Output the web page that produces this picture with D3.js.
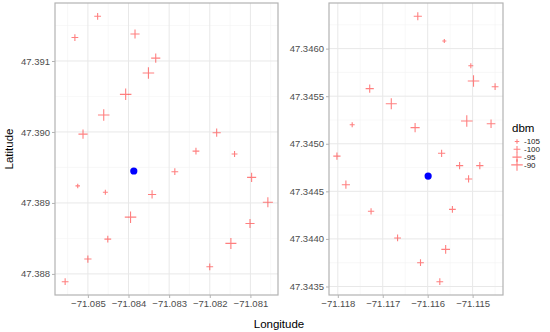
<!DOCTYPE html>
<html>
<head>
<meta charset="utf-8">
<script src="https://cdn.jsdelivr.net/npm/d3@7"></script>
<style>
  body { margin: 0; background: #fff; }
  text { font-family: "Liberation Sans", Arial, sans-serif; }
</style>
</head>
<body>
<svg width="550" height="332"></svg>
<script>
// Left site measurements: [lon, lat, dbm]
let siteA = [
  [-71.08476, 47.39163, -100], [-71.08532, 47.39133, -100], [-71.08384, 47.39138, -95],
  [-71.08333, 47.39104, -95], [-71.08351, 47.39083, -90], [-71.08407, 47.39053, -90],
  [-71.08461, 47.39024, -90], [-71.08512, 47.38997, -95], [-71.08183, 47.38999, -97],
  [-71.08234, 47.38973, -100], [-71.08139, 47.38969, -102], [-71.08525, 47.38924, -105],
  [-71.08457, 47.38915, -104], [-71.08286, 47.38944, -100], [-71.08342, 47.38912, -97],
  [-71.08097, 47.38936, -95], [-71.08057, 47.38901, -93], [-71.08395, 47.3888, -90],
  [-71.08101, 47.38871, -95], [-71.08451, 47.38849, -100], [-71.08148, 47.38843, -91],
  [-71.085, 47.38821, -99], [-71.082, 47.3881, -100], [-71.08556, 47.38789, -100]
];
// Right site measurements: [lon, lat, dbm]
let siteB = [
  [-71.11622, 47.34634, -97], [-71.11563, 47.34608, -106], [-71.11504, 47.34582, -104],
  [-71.11498, 47.34566, -90], [-71.1145, 47.3456, -100], [-71.11729, 47.34558, -97],
  [-71.11681, 47.34542, -91], [-71.11768, 47.3452, -104], [-71.11628, 47.34517, -95],
  [-71.11513, 47.34524, -90], [-71.11459, 47.34521, -96], [-71.11802, 47.34487, -99],
  [-71.11569, 47.3449, -99], [-71.11529, 47.34477, -99], [-71.11484, 47.34477, -99],
  [-71.11509, 47.34463, -99], [-71.11782, 47.34457, -97], [-71.11726, 47.34429, -101],
  [-71.11545, 47.34431, -100], [-71.11667, 47.34401, -100], [-71.1156, 47.34389, -96],
  [-71.11616, 47.34375, -100], [-71.11573, 47.34355, -100]
];
// Tower positions (blue dots)
let towerA = [-71.08387, 47.38945];
let towerB = [-71.11599, 47.34466];

let xTicksA = [-71.085, -71.084, -71.083, -71.082, -71.081];
let yTicksA = [47.388, 47.389, 47.390, 47.391];
let xTicksB = [-71.118, -71.117, -71.116, -71.115];
let yTicksB = [47.3435, 47.3440, 47.3445, 47.3450, 47.3455, 47.3460];
let legendBreaks = [-105, -100, -95, -90];

let svg = d3.select("svg");
let size = d3.scaleSqrt().domain([-107, -89]).range([1.8, 6]);
let red = "rgba(255,0,0,0.5)";

// ggplot style 5% expansion
function expand(ext) {
  let d = (ext[1] - ext[0]) * 0.05;
  return [ext[0] - d, ext[1] + d];
}

function minors(ticks) {
  let step = ticks[1] - ticks[0];
  let out = [];
  for (let i = -1; i < ticks.length; i++) {
    out.push(ticks[0] + step * (i + 0.5));
  }
  return out;
}

function panel(data, tower, x0, x1, xt, yt, xfmt, yfmt) {
  let top = 3, bottom = 295;
  let x = d3.scaleLinear().domain(expand(d3.extent(data, d => d[0]))).range([x0, x1]);
  let y = d3.scaleLinear().domain(expand(d3.extent(data, d => d[1]))).range([bottom, top]);
  let g = svg.append("g");

  // minor grid
  minors(xt).filter(v => x(v) > x0 && x(v) < x1).forEach(v => {
    g.append("line").attr("x1", x(v)).attr("x2", x(v)).attr("y1", top).attr("y2", bottom)
      .attr("stroke", "#f3f3f3").attr("stroke-width", 0.6);
  });
  minors(yt).filter(v => y(v) > top && y(v) < bottom).forEach(v => {
    g.append("line").attr("x1", x0).attr("x2", x1).attr("y1", y(v)).attr("y2", y(v))
      .attr("stroke", "#f3f3f3").attr("stroke-width", 0.6);
  });
  // major grid
  xt.forEach(v => {
    g.append("line").attr("x1", x(v)).attr("x2", x(v)).attr("y1", top).attr("y2", bottom)
      .attr("stroke", "#e8e8e8").attr("stroke-width", 1);
  });
  yt.forEach(v => {
    g.append("line").attr("x1", x0).attr("x2", x1).attr("y1", y(v)).attr("y2", y(v))
      .attr("stroke", "#e8e8e8").attr("stroke-width", 1);
  });

  // crosses
  g.selectAll("path.pt").data(data).enter().append("path")
    .attr("class", "pt")
    .attr("d", d => {
      let r = size(d[2]), cx = x(d[0]), cy = y(d[1]);
      return `M${cx - r},${cy}H${cx + r}M${cx},${cy - r}V${cy + r}`;
    })
    .attr("stroke", red).attr("stroke-width", 1.1).attr("fill", "none");

  g.append("circle").attr("cx", x(tower[0])).attr("cy", y(tower[1])).attr("r", 3.6)
    .attr("fill", "#0000ff");

  g.append("rect").attr("x", x0).attr("y", top).attr("width", x1 - x0).attr("height", bottom - top)
    .attr("fill", "none").attr("stroke", "#b3b3b3").attr("stroke-width", 1.2);

  // axes
  let xa = d3.axisBottom(x).tickValues(xt).tickFormat(xfmt).tickSize(3).tickPadding(2);
  let ya = d3.axisLeft(y).tickValues(yt).tickFormat(yfmt).tickSize(3).tickPadding(2);
  let gx = g.append("g").attr("transform", `translate(0,${bottom})`).call(xa);
  let gy = g.append("g").attr("transform", `translate(${x0},0)`).call(ya);
  [gx, gy].forEach(a => {
    a.select(".domain").remove();
    a.selectAll("line").attr("stroke", "#b3b3b3");
    a.selectAll("text").attr("fill", "#4d4d4d").style("font-size", "9.5px")
      .style("font-family", "Liberation Sans, Arial, sans-serif");
  });
}

panel(siteA, towerA, 55, 278, xTicksA, yTicksA, d3.format(".3f"), d3.format(".3f"));
panel(siteB, towerB, 329, 503, xTicksB, yTicksB, d3.format(".3f"), d3.format(".4f"));

// axis titles
svg.append("text").attr("x", 279).attr("y", 328).attr("text-anchor", "middle")
  .style("font-size", "11.5px").text("Longitude");
svg.append("text").attr("transform", "translate(13,149) rotate(-90)").attr("text-anchor", "middle")
  .style("font-size", "11.5px").text("Latitude");

// legend
let lg = svg.append("g");
lg.append("text").attr("x", 512).attr("y", 132).style("font-size", "11.5px").text("dbm");
legendBreaks.forEach((b, i) => {
  let cy = 141.5 + i * 7.8, cx = 517, r = size(b);
  lg.append("path").attr("d", `M${cx - r},${cy}H${cx + r}M${cx},${cy - r}V${cy + r}`)
    .attr("stroke", red).attr("stroke-width", 1.1);
  lg.append("text").attr("x", 524).attr("y", cy + 2.9).style("font-size", "8px")
    .attr("fill", "#1a1a1a").text(b);
});
</script>
</body>
</html>
